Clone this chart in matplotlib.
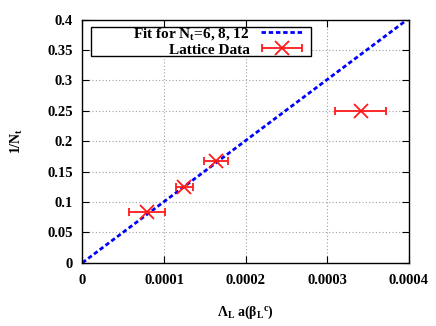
import matplotlib.pyplot as plt
from matplotlib.patches import Rectangle
from matplotlib.legend_handler import HandlerErrorbar

# data
lat_x = [0.0000793, 0.000125, 0.0001634, 0.0003407]
lat_xerr = [0.000022, 0.0000108, 0.000015, 0.000031]
lat_y = [1/12., 1/8., 1/6., 1/4.]

fit_x = [0.0, 0.000398]
fit_y = [0.0, 0.4]

xticks = [0, 0.0001, 0.0002, 0.0003, 0.0004]
xticklabels = ['0', '0.0001', '0.0002', '0.0003', '0.0004']
yticks = [0, 0.05, 0.1, 0.15, 0.2, 0.25, 0.3, 0.35, 0.4]
yticklabels = ['0', '0.05', '0.1', '0.15', '0.2', '0.25', '0.3', '0.35', '0.4']

plt.rcParams['font.family'] = ['Liberation Serif', 'DejaVu Serif']
plt.rcParams['font.weight'] = 'bold'
plt.rcParams['axes.labelweight'] = 'bold'
plt.rcParams['mathtext.fontset'] = 'custom'
plt.rcParams['mathtext.rm'] = 'Liberation Serif:bold'
plt.rcParams['mathtext.it'] = 'Liberation Serif:bold'
plt.rcParams['mathtext.bf'] = 'Liberation Serif:bold'

fig = plt.figure(figsize=(4.36, 3.26), dpi=100)
ax = fig.add_axes([0.189, 0.194, 0.749, 0.746])

ax.plot(fit_x, fit_y, color='#0000ff', linestyle=(0, (1.6, 1.0)), linewidth=2,
        label=r'Fit for N$_\mathrm{t}$=6, 8, 12')
eb = ax.errorbar(lat_x, lat_y, xerr=lat_xerr, fmt='x', color='#ff1a1a', markersize=10,
                 markeredgewidth=1.3, elinewidth=1.3, capsize=3, capthick=1.3,
                 label='Lattice Data')

ax.set_xlim(0, 0.0004)
ax.set_ylim(0, 0.4)
ax.set_xticks(xticks)
ax.set_xticklabels(xticklabels)
ax.set_yticks(yticks)
ax.set_yticklabels(yticklabels)
ax.tick_params(axis='x', pad=8)
ax.tick_params(axis='y', pad=7)
ax.tick_params(direction='in', top=True, right=True, labelsize=10.5, length=5)
ax.grid(True, color='#a0a0a0', linestyle=(0, (1, 2)), linewidth=0.8)
for s in ax.spines.values():
    s.set_linewidth(1.0)

ax.set_xlabel(r'$\Lambda_\mathrm{L}$ a($\beta_\mathrm{L}{}^\mathrm{c}$)', fontsize=10, labelpad=12)
ax.set_ylabel(r'1/N$_\mathrm{t}$', fontsize=10, labelpad=16)

# legend box drawn by hand (gnuplot style, text right aligned)
ax.add_patch(Rectangle((0.0275, 0.850), 0.674, 0.119, transform=ax.transAxes,
                       facecolor='white', edgecolor='black', linewidth=1.0, zorder=4))
leg = ax.legend(loc='upper right', bbox_to_anchor=(0.677, 0.975), markerfirst=False,
                fontsize=11, frameon=False, handlelength=2.8, handletextpad=0.7,
                borderpad=0.0, labelspacing=0.1, borderaxespad=0.0,
                handler_map={eb: HandlerErrorbar(xerr_size=1.3)})
leg.set_zorder(5)

fig.savefig('out.png', dpi=100)
